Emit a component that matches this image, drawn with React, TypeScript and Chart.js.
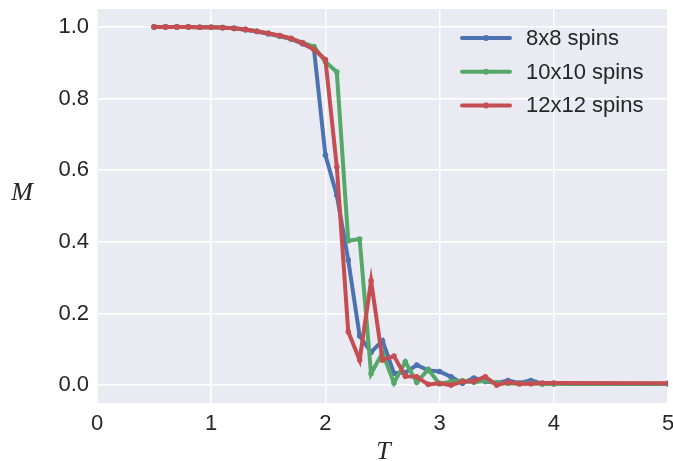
import React, { useEffect, useRef } from "react";
import { Chart, registerables } from "chart.js";

Chart.register(...registerables);

const temperatures = [
  0.5, 0.6, 0.7, 0.8, 0.9, 1.0, 1.1, 1.2, 1.3, 1.4, 1.5, 1.6, 1.7, 1.8, 1.9,
  2.0, 2.1, 2.2, 2.3, 2.4, 2.5, 2.6, 2.7, 2.8, 2.9, 3.0, 3.1, 3.2, 3.3, 3.4,
  3.5, 3.6, 3.7, 3.8, 3.9, 4.0, 5.0,
];

const mag8 = [
  1.0, 1.0, 1.0, 1.0, 0.999, 0.999, 0.998, 0.996, 0.992, 0.987, 0.981, 0.974,
  0.966, 0.953, 0.938, 0.642, 0.53, 0.349, 0.137, 0.092, 0.124, 0.033, 0.035,
  0.056, 0.041, 0.038, 0.023, 0.005, 0.02, 0.01, 0.006, 0.013, 0.006, 0.013,
  0.004, 0.004, 0.003,
];

const mag10 = [
  1.0, 1.0, 1.0, 1.0, 0.999, 0.999, 0.998, 0.996, 0.993, 0.988, 0.982, 0.975,
  0.967, 0.956, 0.945, 0.903, 0.874, 0.403, 0.408, 0.032, 0.09, 0.006, 0.065,
  0.008, 0.044, 0.003, 0.01, 0.012, 0.008, 0.012, 0.006, 0.005, 0.004, 0.006,
  0.003, 0.003, 0.004,
];

const mag12 = [
  1.0, 1.0, 1.0, 1.0, 0.999, 0.999, 0.998, 0.996, 0.993, 0.988, 0.982, 0.976,
  0.968, 0.955, 0.937, 0.909, 0.609, 0.149, 0.07, 0.291, 0.07, 0.081, 0.025,
  0.023, 0.002, 0.005, 0.0, 0.01, 0.011, 0.023, 0.0, 0.008, 0.004, 0.004,
  0.006, 0.006, 0.005,
];

const seriesLabels = ["8x8 spins", "10x10 spins", "12x12 spins"];
const seriesColors = ["#4C72B0", "#55A868", "#C44E52"];
const xTicks = [0, 1, 2, 3, 4, 5];
const yTicks = [0.0, 0.2, 0.4, 0.6, 0.8, 1.0];
const xTitle = "T";
const yTitle = "M";

const TEXT_COLOR = "#262626";
const FONT = "'Liberation Sans', Arial, sans-serif";

const bgPlugin = {
  id: "bgPlugin",
  beforeDraw(chart: any) {
    const { ctx, chartArea } = chart;
    ctx.save();
    ctx.fillStyle = "#ffffff";
    ctx.fillRect(0, 0, chart.width, chart.height);
    ctx.fillStyle = "#EAEAF2";
    ctx.fillRect(
      chartArea.left,
      chartArea.top,
      chartArea.right - chartArea.left,
      chartArea.bottom - chartArea.top
    );
    ctx.restore();
  },
  afterDraw(chart: any) {
    const { ctx, chartArea } = chart;
    ctx.save();
    ctx.fillStyle = TEXT_COLOR;
    ctx.font = "italic 26px 'Liberation Serif', 'DejaVu Serif', serif";
    ctx.textAlign = "center";
    ctx.textBaseline = "middle";
    ctx.fillText(yTitle, 22, 193);
    ctx.fillText(xTitle, (chartArea.left + chartArea.right) / 2 + 1, 452);

    const lx0 = chartArea.right - 206;
    const ly0 = chartArea.top + 29;
    const rowH = 33.7;
    chart.data.datasets.forEach((ds: any, i: number) => {
      const y = ly0 + rowH * i;
      ctx.strokeStyle = ds.borderColor;
      ctx.lineWidth = ds.borderWidth;
      ctx.lineCap = "round";
      ctx.beginPath();
      ctx.moveTo(lx0, y);
      ctx.lineTo(lx0 + 48, y);
      ctx.stroke();
      ctx.fillStyle = ds.borderColor;
      ctx.beginPath();
      ctx.arc(lx0 + 24, y, 3, 0, Math.PI * 2);
      ctx.fill();
      ctx.fillStyle = TEXT_COLOR;
      ctx.font = `22px ${FONT}`;
      ctx.textAlign = "left";
      ctx.textBaseline = "middle";
      ctx.fillText(ds.label, lx0 + 64, y + 1);
    });
    ctx.restore();
  },
};

const zeroPad = (scale: any) => {
  scale.paddingTop = 0;
  scale.paddingBottom = 0;
  scale.paddingLeft = 0;
  scale.paddingRight = 0;
};

export default function App() {
  const canvasRef = useRef<HTMLCanvasElement | null>(null);

  useEffect(() => {
    const canvas = canvasRef.current;
    if (!canvas) return;
    const series = [mag8, mag10, mag12];
    const datasets = series.map((vals, i) => ({
      label: seriesLabels[i],
      data: temperatures.map((t, j) => ({ x: t, y: vals[j] })),
      borderColor: seriesColors[i],
      backgroundColor: seriesColors[i],
      borderWidth: 4,
      pointRadius: 2.8,
      pointBorderWidth: 0,
      pointBackgroundColor: seriesColors[i],
      tension: 0,
      order: 2 - i,
    }));

    const chart = new Chart(canvas, {
      type: "line",
      data: { datasets },
      options: {
        animation: false,
        responsive: false,
        maintainAspectRatio: false,
        layout: { padding: { top: 9, right: 5, left: 0, bottom: 0 } },
        plugins: {
          legend: { display: false },
          tooltip: { enabled: false },
        },
        scales: {
          x: {
            type: "linear",
            min: 0,
            max: 5,
            afterBuildTicks: (scale: any) => {
              scale.ticks = xTicks.map((v) => ({ value: v }));
            },
            afterFit: (scale: any) => {
              scale.height = 58;
              zeroPad(scale);
            },
            ticks: {
              color: TEXT_COLOR,
              font: { family: FONT, size: 22 },
              padding: 8,
              callback: (v: any) => String(v),
            },
            grid: { color: "#ffffff", lineWidth: 1.5, drawTicks: false },
            border: { display: false },
          },
          y: {
            type: "linear",
            min: -0.05,
            max: 1.05,
            afterBuildTicks: (scale: any) => {
              scale.ticks = yTicks.map((v) => ({ value: v }));
            },
            afterFit: (scale: any) => {
              scale.width = 97;
              zeroPad(scale);
            },
            ticks: {
              color: TEXT_COLOR,
              font: { family: FONT, size: 22 },
              padding: 8,
              callback: (v: any) => Number(v).toFixed(1),
            },
            grid: { color: "#ffffff", lineWidth: 1.5, drawTicks: false },
            border: { display: false },
          },
        },
      },
      plugins: [bgPlugin],
    } as any);

    return () => chart.destroy();
  }, []);

  return (
    <div style={{ position: "absolute", left: 0, top: 0, width: 673, height: 461 }}>
      <canvas ref={canvasRef} width={673} height={461} style={{ display: "block" }} />
    </div>
  );
}
